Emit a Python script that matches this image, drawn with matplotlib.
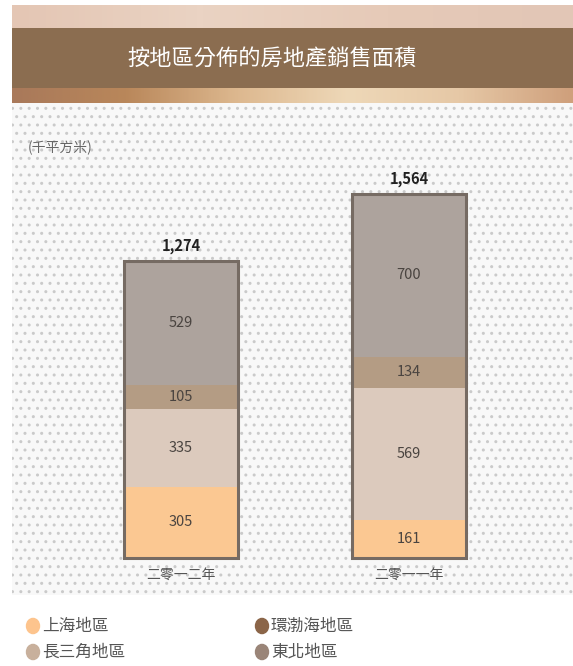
import matplotlib.pyplot as plt
import numpy as np
from matplotlib.patches import Rectangle
from matplotlib.colors import LinearSegmentedColormap

plt.rcParams['font.family'] = ['Noto Sans CJK TC', 'DejaVu Sans']

years = ['二零一二年', '二零一一年']
regions = ['上海地區', '長三角地區', '環渤海地區', '東北地區']
values = {
    '上海地區': [305, 161],
    '長三角地區': [335, 569],
    '環渤海地區': [105, 134],
    '東北地區': [529, 700],
}
totals = ['1,274', '1,564']

bar_colors = ['#FBC892', '#DCCABD', '#B49C84', '#ADA39D']
legend_colors = ['#FDC48D', '#C8B09C', '#8B6548', '#9A8578']

W, H = 573, 666
fig = plt.figure(figsize=(W / 100, H / 100), dpi=100, facecolor='white')


def px_axes(x0, y0, x1, y1):
    # pixel box (top-left origin) -> axes
    return fig.add_axes([x0 / W, 1 - y1 / H, (x1 - x0) / W, (y1 - y0) / H])


# header strips
top = px_axes(12, 5, 573, 28)
top.set_axis_off()
top.imshow(np.linspace(0, 1, 100)[None, :], aspect='auto',
           cmap=LinearSegmentedColormap.from_list('t', ['#E4C6B4', '#EAD3C3', '#E6CAB8', '#E2C6B6']))

band = px_axes(12, 28, 573, 88)
band.set_axis_off()
band.add_patch(Rectangle((0, 0), 1, 1, color='#8B6D50', transform=band.transAxes))
band.text(0.463, 0.5, '按地區分佈的房地產銷售面積', color='white', fontsize=16,
          ha='center', va='center', transform=band.transAxes)

grad = px_axes(12, 88, 573, 103)
grad.set_axis_off()
grad.imshow(np.linspace(0, 1, 200)[None, :], aspect='auto',
            cmap=LinearSegmentedColormap.from_list(
                'g', ['#A9795A', '#B9875A', '#DDB88F', '#EED8B8', '#E6C8A6', '#CFA07C']))

# chart area
ax = px_axes(12, 103, 573, 595)
ax.set_facecolor('#F8F8F8')
ax.add_patch(Rectangle((0, 0), 1, 1, transform=ax.transAxes, facecolor='none',
                       edgecolor='#CACACA', hatch='..', lw=0))
for s in ax.spines.values():
    s.set_visible(False)
ax.set_xticks([])
ax.set_yticks([])

x = np.arange(len(years))
bottom = np.zeros(len(years))
for reg, col in zip(regions, bar_colors):
    v = np.array(values[reg])
    ax.bar(x, v, width=0.5, bottom=bottom, color=col, edgecolor='none', zorder=2)
    for xi, vi, bi in zip(x, v, bottom):
        ax.text(xi, bi + vi / 2, str(vi), ha='center', va='center',
                fontsize=10.5, color='#4A4440', zorder=4)
    bottom += v

for xi, b, t in zip(x, bottom, totals):
    ax.bar(xi, b, width=0.5, color='none', edgecolor='#766B63', lw=2.2, zorder=3)
    ax.text(xi, b + 30, t, ha='center', va='bottom', fontsize=10.5,
            fontweight='bold', color='#222222', zorder=4)
    ax.text(xi, -72, years[xi], ha='center', va='center', fontsize=10,
            color='#555555', zorder=4)

ax.set_xlim(-0.741, 1.719)
ax.set_ylim(-159, 1954)
ax.text(0.028, 0.91, '(千平方米)', transform=ax.transAxes, fontsize=10,
        color='#666666', va='center', ha='left')

# legend
for i, (reg, col) in enumerate(zip(regions, legend_colors)):
    cx = 33 if i in (0, 1) else 262
    cy = 626 if i in (0, 2) else 652
    fig.patches.append(plt.Circle((cx / W, 1 - cy / H), 6.5 / W, color=col,
                                  transform=fig.transFigure))
    fig.text((cx + 9) / W, 1 - cy / H, reg, fontsize=12, color='#555555',
             va='center', ha='left')

fig.savefig('out.png', dpi=100, facecolor='white')
